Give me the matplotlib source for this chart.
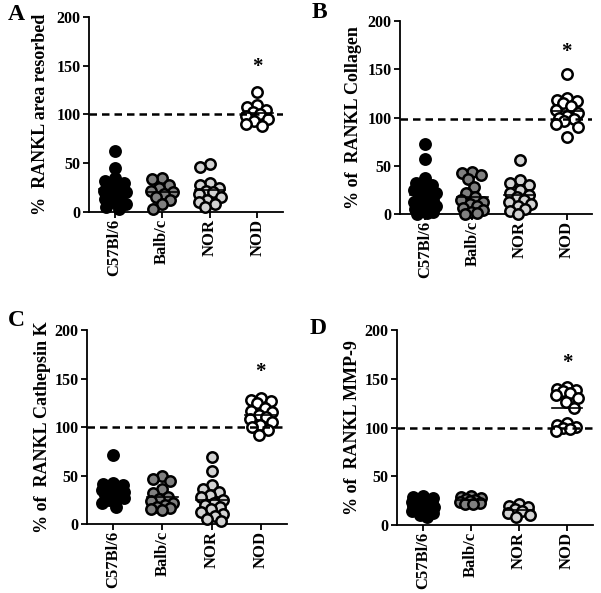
import numpy as np
import matplotlib
matplotlib.use("Agg")
import matplotlib.pyplot as plt

plt.rcParams['font.family'] = ['Liberation Serif', 'DejaVu Serif']
plt.rcParams['font.weight'] = 'bold'

strains = ['C57Bl/6', 'Balb/c', 'NOR', 'NOD']
fills = ['black', 'grey', 'lightgrey', 'white']

# A: % RANKL area resorbed
a_c57 = [63, 45, 35, 32, 30, 27, 25, 22, 20, 18, 15, 13, 10, 8, 5, 3]
a_balb = [35, 34, 28, 25, 22, 20, 18, 15, 12, 8, 3]
a_nor = [49, 46, 30, 28, 25, 22, 20, 18, 15, 12, 10, 8, 5]
a_nod = [123, 110, 108, 105, 103, 100, 98, 95, 93, 90, 88]

# B: % of RANKL Collagen
b_c57 = [73, 57, 37, 32, 30, 28, 25, 22, 20, 18, 15, 13, 12, 10, 8, 6, 5, 3, 2, 1, 0]
b_balb = [44, 42, 40, 36, 28, 22, 18, 14, 12, 10, 8, 6, 4, 2, 1, 0]
b_nor = [56, 35, 32, 30, 25, 22, 20, 18, 15, 12, 10, 8, 5, 3, 0]
b_nod = [145, 120, 118, 117, 115, 112, 108, 105, 102, 100, 98, 96, 93, 90, 80]

# C: % of RANKL Cathepsin K
c_c57 = [71, 42, 41, 40, 38, 36, 35, 33, 32, 31, 30, 28, 27, 25, 22, 18]
c_balb = [50, 46, 44, 36, 32, 28, 26, 24, 22, 20, 18, 16, 15, 14]
c_nor = [69, 55, 40, 36, 33, 30, 28, 25, 22, 20, 18, 15, 12, 10, 8, 5, 3]
c_nod = [130, 128, 127, 125, 120, 117, 115, 112, 110, 108, 105, 102, 100, 97, 92]

# D: % of RANKL MMP-9
d_c57 = [30, 29, 28, 27, 26, 25, 24, 23, 22, 21, 20, 19, 18, 17, 16, 15, 14, 12, 10, 8]
d_balb = [30, 29, 28, 27, 26, 25, 24, 23, 22, 22]
d_nor = [22, 20, 18, 16, 14, 12, 10, 8]
d_nod = [142, 140, 138, 137, 135, 133, 130, 126, 120, 105, 103, 101, 100, 98, 96]

panels = [
    ('A', '%  RANKL area resorbed', [a_c57, a_balb, a_nor, a_nod], 100, 149),
    ('B', '% of  RANKL Collagen', [b_c57, b_balb, b_nor, b_nod], 98, 168),
    ('C', '% of  RANKL Cathepsin K', [c_c57, c_balb, c_nor, c_nod], 100, 157),
    ('D', '% of  RANKL MMP-9', [d_c57, d_balb, d_nor, d_nod], 100, 166),
]

W, H = 601, 593
boxes = [(89, 17, 283, 212), (400, 21, 592, 214), (87, 330, 287, 524), (397, 330, 593, 525)]
letter_pos = [(8, 15), (312, 13), (8, 320), (310, 328)]
label_x = [-0.205, -0.2, -0.18, -0.185]


def swarm(vals, ppx, ppy, mind=9.5, maxoff=11.0):
    vals = np.asarray(vals, float)
    cand = np.linspace(-maxoff, maxoff, 23)
    cand = cand[np.argsort(np.abs(cand), kind='stable')]
    placed = []
    offs = np.zeros(len(vals))
    for i in np.argsort(-vals, kind='stable'):
        y = vals[i] * ppy
        best, bestd = 0.0, -1
        for c in cand:
            d = min([np.hypot(c - px, y - py) for px, py in placed], default=1e9)
            if d >= mind:
                best = c
                break
            if d > bestd:
                best, bestd = c, d
        placed.append((best, y))
        offs[i] = best / ppx
    return offs


fig = plt.figure(figsize=(W / 100, H / 100), dpi=100)

for k, (letter, ylab, groups, ref, star) in enumerate(panels):
    x0, y0, x1, y1 = boxes[k]
    ax = fig.add_axes([x0 / W, 1 - y1 / H, (x1 - x0) / W, (y1 - y0) / H])
    ax.set_xlim(-0.54, 3.54)
    ax.set_ylim(0, 200)
    ppx = (x1 - x0) / 4.08
    ppy = (y1 - y0) / 200
    for i, vals in enumerate(groups):
        off = swarm(vals, ppx, ppy)
        ax.scatter(i + off, vals, s=56, facecolor=fills[i], edgecolor='black',
                   linewidth=1.8, zorder=3, clip_on=False)
        m = np.mean(vals)
        ax.plot([i - 0.32, i + 0.32], [m, m], color='black', lw=1.2, zorder=4)
    ax.axhline(ref, color='black', lw=1.8, ls=(0, (3, 2)), zorder=5)
    ax.text(3, star, '*', ha='center', va='center', fontsize=15, fontweight='bold')

    for s in ['top', 'right']:
        ax.spines[s].set_visible(False)
    for s in ['left', 'bottom']:
        ax.spines[s].set_linewidth(1.3)
    ax.set_yticks([0, 50, 100, 150, 200])
    ax.set_xticks(range(4))
    ax.set_xticklabels(strains, rotation=90, fontsize=12, fontweight='bold')
    ax.tick_params(axis='y', labelsize=11.5, width=1.3, length=4, pad=2)
    ax.tick_params(axis='x', width=1.3, length=4, pad=1)
    for t in ax.get_yticklabels():
        t.set_fontweight('bold')
    ax.set_ylabel(ylab, fontsize=13, fontweight='bold')
    ax.yaxis.set_label_coords(label_x[k], 0.5)

    lx, ly = letter_pos[k]
    fig.text(lx / W, 1 - ly / H, letter, fontsize=17, fontweight='bold',
             ha='left', va='center')

fig.savefig('out.png', dpi=100)
